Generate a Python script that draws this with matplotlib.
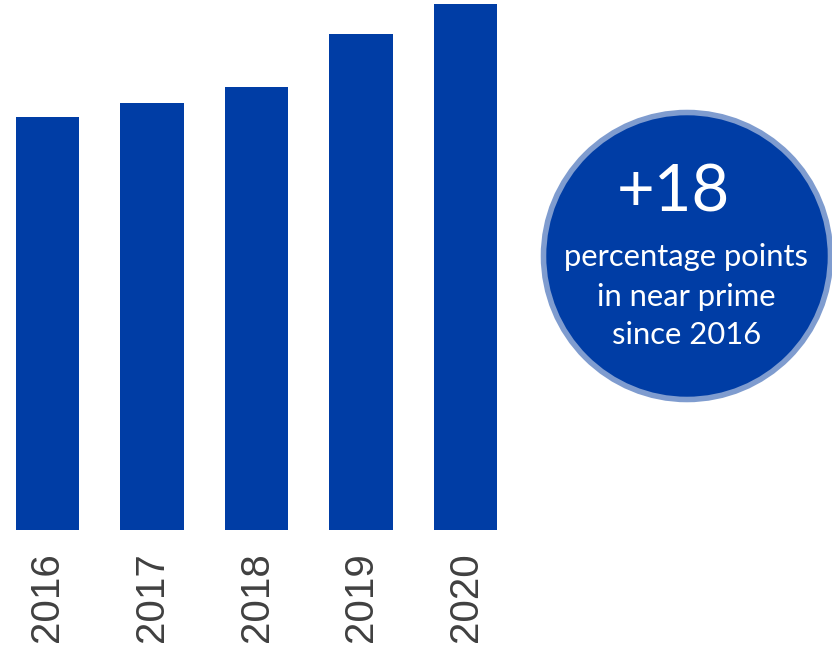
import matplotlib
matplotlib.use("Agg")
import matplotlib.pyplot as plt
from matplotlib.patches import Circle

# share in near prime (%)
years = ["2016", "2017", "2018", "2019", "2020"]
values = [65.8, 68.0, 70.5, 79.0, 83.8]

bar_color = "#003da5"
ring_color = "#7f9ccf"

fig = plt.figure(figsize=(8.32, 6.48), dpi=100)

# bar chart
ax = fig.add_axes([0, 118 / 648, 520 / 832, 530 / 648])
ax.bar(range(len(years)), values, width=0.603, color=bar_color)
ax.set_xlim(-47.5 / 104.5, (520 - 47.5) / 104.5)
ax.set_ylim(0, 530 / 6.28)
ax.set_xticks(range(len(years)))
ax.set_xticklabels(years, rotation=90, fontsize=29, color="#404040",
                   family="Liberation Sans", va="top")
ax.tick_params(axis="x", length=0, pad=16)
ax.set_yticks([])
for s in ax.spines.values():
    s.set_visible(False)

# callout bubble
ov = fig.add_axes([0, 0, 1, 1])
ov.set_xlim(0, 832)
ov.set_ylim(648, 0)
ov.axis("off")
ov.add_patch(Circle((687, 256), 143.5, facecolor=bar_color,
                    edgecolor=ring_color, linewidth=4))
ov.text(673, 193, "+18", color="white", fontsize=47, family="Lato",
        ha="center", va="center")
ov.text(686, 257, "percentage points", color="white", fontsize=22.3,
        family="Lato", ha="center", va="center")
ov.text(686, 297, "in near prime", color="white", fontsize=22.3,
        family="Lato", ha="center", va="center")
ov.text(687, 335, "since 2016", color="white", fontsize=22.3,
        family="Lato", ha="center", va="center")

fig.savefig("out.png", dpi=100)
